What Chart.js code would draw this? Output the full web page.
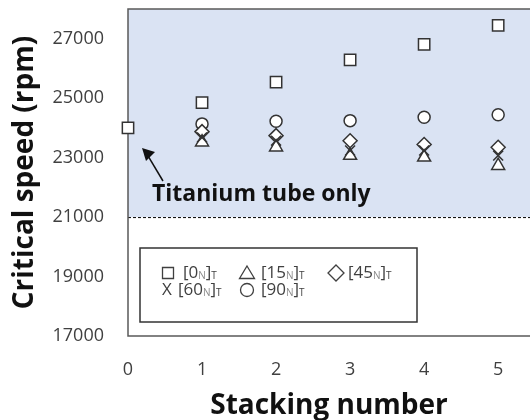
<!DOCTYPE html>
<html>
<head>
<meta charset="utf-8">
<script src="https://cdn.jsdelivr.net/npm/chart.js"></script>
<style>
  html, body { margin: 0; padding: 0; background: #fff; overflow: hidden; }
  #wrap { width: 530px; height: 420px; }
</style>
</head>
<body>
<div id="wrap"><canvas id="myChart" width="530" height="420"></canvas></div>
<script>
// data
const stacking = [1, 2, 3, 4, 5];
const tiOnly = [24000];          // titanium tube only, stacking 0
const s0 = [24850, 25540, 26290, 26810, 27450];
const s15 = [23520, 23350, 23070, 23010, 22730];
const s45 = [23875, 23740, 23570, 23440, 23350];
const s60 = [23680, 23570, 23240, 23240, 23070];
const s90 = [24135, 24225, 24245, 24360, 24440];
const xTicks = [0, 1, 2, 3, 4, 5];
const yTicks = [17000, 19000, 21000, 23000, 25000, 27000];
const limitRpm = 21000;

const pts = (arr) => stacking.map((x, i) => ({ x: x, y: arr[i] }));
const ink = "#333333";
const frame = "#5a5a5a";

const markerBase = {
  showLine: false,
  backgroundColor: "#ffffff",
  borderColor: ink,
  borderWidth: 1.5,
};

// shaded zone above the limit, dashed line, frame
const zonePlugin = {
  id: "zone",
  beforeDatasetsDraw(chart) {
    const { ctx, chartArea: a, scales } = chart;
    const yl = scales.y.getPixelForValue(limitRpm);
    ctx.save();
    ctx.fillStyle = "#dae3f3";
    ctx.fillRect(a.left, a.top, a.right - a.left, yl - a.top);
    ctx.strokeStyle = "#000";
    ctx.lineWidth = 1;
    ctx.setLineDash([3, 2]);
    ctx.beginPath();
    ctx.moveTo(a.left, yl + 0.5);
    ctx.lineTo(a.right, yl + 0.5);
    ctx.stroke();
    ctx.setLineDash([]);
    ctx.strokeStyle = frame;
    ctx.lineWidth = 1.5;
    ctx.beginPath();
    ctx.moveTo(a.right, a.top);
    ctx.lineTo(a.left, a.top);
    ctx.lineTo(a.left, a.bottom);
    ctx.lineTo(a.right, a.bottom);
    ctx.stroke();
    ctx.restore();
  },
};

function drawMark(ctx, kind, x, y) {
  ctx.beginPath();
  if (kind === "square") ctx.rect(x - 5.5, y - 5.5, 11, 11);
  if (kind === "triangle") { ctx.moveTo(x, y - 7); ctx.lineTo(x + 7.5, y + 5.5); ctx.lineTo(x - 7.5, y + 5.5); ctx.closePath(); }
  if (kind === "diamond") { ctx.moveTo(x, y - 8); ctx.lineTo(x + 8, y); ctx.lineTo(x, y + 8); ctx.lineTo(x - 8, y); ctx.closePath(); }
  if (kind === "circle") ctx.arc(x, y, 6.5, 0, Math.PI * 2);
  ctx.fillStyle = "#fff";
  ctx.fill();
  ctx.stroke();
}

function drawLabel(ctx, x, y, num) {
  const big = "17px 'Open Sans'";
  const small = "10px 'Open Sans'";
  ctx.font = big;
  ctx.fillStyle = "#404040";
  ctx.fillText("[" + num, x, y);
  x += ctx.measureText("[" + num).width;
  ctx.font = small;
  ctx.fillStyle = "#8a8a8a";
  ctx.fillText("N", x, y + 3);
  x += ctx.measureText("N").width;
  ctx.font = big;
  ctx.fillStyle = "#404040";
  ctx.fillText("]", x, y);
  x += ctx.measureText("]").width;
  ctx.font = small;
  ctx.fillText("T", x, y + 3);
}

const notePlugin = {
  id: "notes",
  afterDraw(chart) {
    const { ctx, scales } = chart;
    ctx.save();
    // legend box
    ctx.fillStyle = "#fff";
    ctx.strokeStyle = "#333";
    ctx.lineWidth = 1.5;
    ctx.fillRect(140, 248, 277, 74);
    ctx.strokeRect(140, 248, 277, 74);
    ctx.textBaseline = "middle";
    ctx.lineWidth = 1.3;
    ctx.strokeStyle = "#404040";
    drawMark(ctx, "square", 168, 273);
    drawLabel(ctx, 183, 273, "0");
    drawMark(ctx, "triangle", 247, 273);
    drawLabel(ctx, 261, 273, "15");
    drawMark(ctx, "diamond", 336, 273);
    drawLabel(ctx, 348, 273, "45");
    ctx.font = "17px 'Open Sans'";
    ctx.fillStyle = "#404040";
    ctx.fillText("X", 162, 290);
    drawLabel(ctx, 178, 290, "60");
    drawMark(ctx, "circle", 247, 290);
    drawLabel(ctx, 261, 290, "90");

    // annotation with arrow
    const tx = scales.x.getPixelForValue(0) + 14;
    const ty = scales.y.getPixelForValue(tiOnly[0]) + 20;
    ctx.strokeStyle = "#111";
    ctx.fillStyle = "#111";
    ctx.lineWidth = 1.5;
    ctx.beginPath();
    ctx.moveTo(163, 181);
    ctx.lineTo(tx + 6, ty + 8);
    ctx.stroke();
    ctx.beginPath();
    ctx.moveTo(tx, ty);
    ctx.lineTo(tx + 13, ty + 4);
    ctx.lineTo(tx + 4, ty + 13);
    ctx.closePath();
    ctx.fill();
    ctx.font = "bold 23px 'Open Sans'";
    ctx.textBaseline = "alphabetic";
    ctx.fillText("Titanium tube only", 152, 201);
    ctx.restore();
  },
};

new Chart(document.getElementById("myChart"), {
  type: "scatter",
  data: {
    datasets: [
      { ...markerBase, label: "Titanium tube only", data: [{ x: 0, y: tiOnly[0] }], pointStyle: "rect", pointRadius: 8, clip: false, order: 0 },
      { ...markerBase, label: "[0N]T", data: pts(s0), pointStyle: "rect", pointRadius: 8, order: 1 },
      { ...markerBase, label: "[60N]T", data: pts(s60), pointStyle: "crossRot", pointRadius: 7, order: 2 },
      { ...markerBase, label: "[15N]T", data: pts(s15), pointStyle: "triangle", pointRadius: 7.5, order: 3 },
      { ...markerBase, label: "[45N]T", data: pts(s45), pointStyle: "rectRot", pointRadius: 7, order: 4 },
      { ...markerBase, label: "[90N]T", data: pts(s90), pointStyle: "circle", pointRadius: 6, order: 5 },
    ],
  },
  options: {
    responsive: false,
    animation: false,
    layout: { autoPadding: false, padding: { top: 9, right: 0, left: 0, bottom: 0 } },
    plugins: { legend: { display: false }, tooltip: { enabled: false } },
    scales: {
      x: {
        type: "linear",
        min: 0,
        max: 5.43,
        afterBuildTicks: (scale) => { scale.ticks = xTicks.map((v) => ({ value: v })); },
        afterFit: (scale) => { scale.height = 84; scale.paddingLeft = 0; scale.paddingRight = 0; },
        grid: { display: false, drawTicks: false },
        border: { display: false },
        ticks: { padding: 23, color: "#404040", font: { size: 18, family: "'Open Sans'" }, callback: (v) => String(v) },
        title: { display: true, text: "Stacking number", color: "#111", padding: { top: 0, bottom: -3 }, font: { size: 28, weight: "bold", family: "'Open Sans'" } },
      },
      y: {
        min: 17000,
        max: 28000,
        afterBuildTicks: (scale) => { scale.ticks = yTicks.map((v) => ({ value: v })); },
        afterFit: (scale) => { scale.width = 128; scale.paddingTop = 0; scale.paddingBottom = 0; },
        grid: { display: false, drawTicks: false },
        border: { display: false },
        ticks: { padding: 24, color: "#404040", font: { size: 18, family: "'Open Sans'" }, callback: (v) => String(v) },
        title: { display: true, text: "Critical speed (rpm)", color: "#111", padding: { top: 8, bottom: 0 }, font: { size: 28, weight: "bold", family: "'Open Sans'" } },
      },
    },
  },
  plugins: [zonePlugin, notePlugin],
});
</script>
</body>
</html>
